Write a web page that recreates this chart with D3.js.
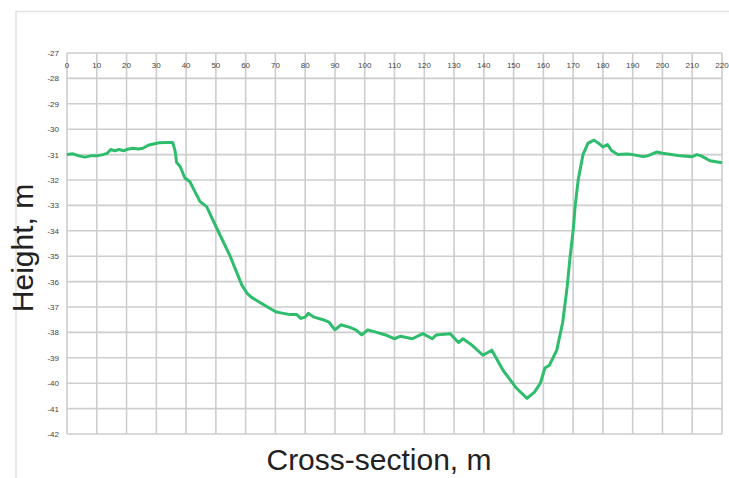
<!DOCTYPE html>
<html>
<head>
<meta charset="utf-8">
<script src="https://cdn.jsdelivr.net/npm/d3@7"></script>
<style>
  body { margin: 0; background: #fff; }
</style>
</head>
<body>
<div id="chart"></div>
<script>
// cross-section profile
const distance = [0, 2, 4, 6, 8, 10, 12, 13.5, 14.7, 16, 17.5, 19, 20, 22, 24, 25.5, 27.3, 29, 31, 33, 35.5,
  36.3, 36.8, 38, 39.6, 41.3, 42.4, 44.7, 46.9, 50.3, 54.8, 58.7, 60.4, 62, 64.8, 68.8, 70.4, 72.7, 75, 77.2,
  78.5, 80, 81, 83, 86, 88, 90, 92, 95, 97, 99, 101, 104, 107, 110, 112, 116, 119.5, 122.7, 124, 128.7,
  131.5, 133, 136, 139.7, 142.7, 146.5, 151, 154.5, 157, 159, 160.5, 162, 164.5, 166.5, 168, 169, 170,
  170.7, 171.7, 173.3, 175, 177, 178.5, 180, 181.5, 183, 185, 188, 190, 193.5, 195, 198, 200, 203, 206,
  210, 211.6, 213, 216, 218, 220];
const height = [-31.0, -30.97, -31.05, -31.1, -31.05, -31.05, -31.0, -30.95, -30.8, -30.85, -30.8, -30.85,
  -30.8, -30.75, -30.78, -30.75, -30.63, -30.58, -30.53, -30.52, -30.52,
  -30.85, -31.3, -31.47, -31.92, -32.07, -32.33, -32.85, -33.05, -33.9, -35.0, -36.13, -36.45, -36.62,
  -36.82, -37.1, -37.2, -37.25, -37.3, -37.3,
  -37.45, -37.4, -37.25, -37.4, -37.5, -37.6, -37.9, -37.7, -37.8, -37.9, -38.1, -37.9, -38.0, -38.1,
  -38.25, -38.15, -38.25, -38.05, -38.25, -38.1, -38.05,
  -38.4, -38.25, -38.5, -38.9, -38.7, -39.5, -40.2, -40.6, -40.35, -40.0, -39.4, -39.3, -38.7, -37.6,
  -36.2, -35.0, -34.0,
  -33.0, -32.0, -31.0, -30.55, -30.43, -30.55, -30.7, -30.6, -30.85, -31.0, -30.98, -31.0, -31.08,
  -31.05, -30.9, -30.95, -31.0, -31.05,
  -31.08, -31.0, -31.05, -31.24, -31.28, -31.32];
const xTicks = d3.range(0, 221, 10);
const yTicks = d3.range(-27, -43, -1);

const W = 729, H = 478;
const margin = {top: 53, right: 7, bottom: 44, left: 67};

const svg = d3.select("#chart").append("svg")
    .attr("width", W)
    .attr("height", H)
    .attr("font-family", "'Liberation Sans', Arial, sans-serif");

// faint frame round the whole picture
svg.append("path")
    .attr("d", `M16,${H} V11.5 H${W}`)
    .attr("fill", "none")
    .attr("stroke", "#e2e2e2")
    .attr("stroke-width", 1.5);

const x = d3.scaleLinear().domain([0, 220]).range([margin.left, W - margin.right]);
const y = d3.scaleLinear().domain([-27, -42]).range([margin.top, H - margin.bottom]);

// grid
svg.append("g")
    .attr("stroke", "#cdcdcd")
    .attr("stroke-width", 1.6)
  .selectAll("line")
  .data(xTicks)
  .join("line")
    .attr("x1", d => x(d)).attr("x2", d => x(d))
    .attr("y1", y(-27)).attr("y2", y(-42));

svg.append("g")
    .attr("stroke", "#cdcdcd")
    .attr("stroke-width", 1.6)
  .selectAll("line")
  .data(yTicks)
  .join("line")
    .attr("x1", x(0)).attr("x2", x(220))
    .attr("y1", d => y(d)).attr("y2", d => y(d));

// tick labels, x inside the top of the plot, y to the left
svg.append("g")
    .attr("font-size", 8)
    .attr("fill", "#444")
    .attr("text-anchor", "middle")
  .selectAll("text")
  .data(xTicks)
  .join("text")
    .attr("x", d => x(d))
    .attr("y", y(-27) + 15)
    .text(d => d);

svg.append("g")
    .attr("font-size", 8)
    .attr("fill", "#444")
    .attr("text-anchor", "end")
  .selectAll("text")
  .data(yTicks)
  .join("text")
    .attr("x", x(0) - 8)
    .attr("y", d => y(d) + 3)
    .text(d => d);

// profile
const line = d3.line()
    .x((d, i) => x(distance[i]))
    .y(d => y(d));

svg.append("path")
    .datum(height)
    .attr("fill", "none")
    .attr("stroke", "#2ebd6c")
    .attr("stroke-width", 3)
    .attr("stroke-linejoin", "round")
    .attr("d", line);

// axis titles
svg.append("text")
    .attr("x", 379)
    .attr("y", 470)
    .attr("text-anchor", "middle")
    .attr("font-size", 30)
    .attr("fill", "#222")
    .text("Cross-section, m");

svg.append("text")
    .attr("transform", "translate(33,248) rotate(-90)")
    .attr("text-anchor", "middle")
    .attr("font-size", 30)
    .attr("fill", "#222")
    .text("Height, m");
</script>
</body>
</html>
